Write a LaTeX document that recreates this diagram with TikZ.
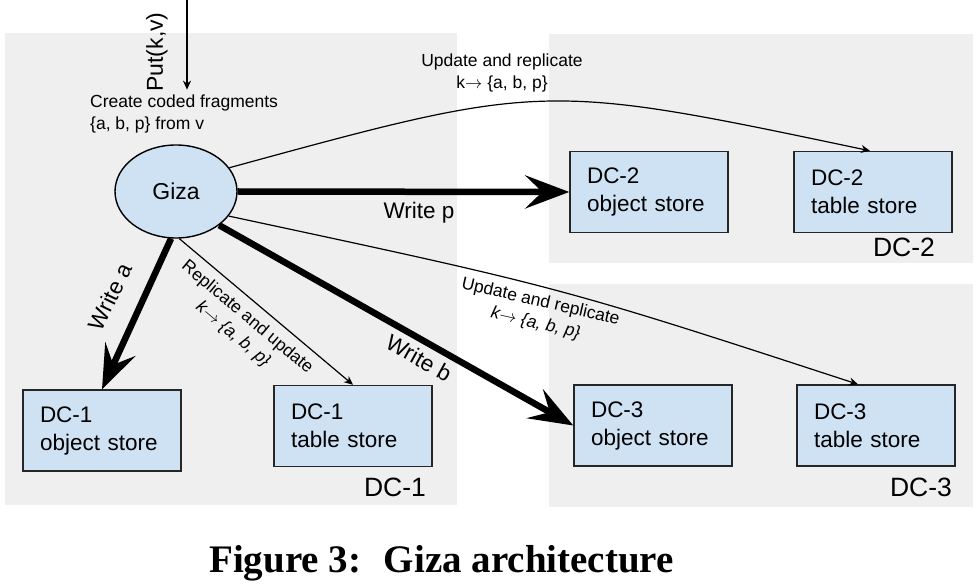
\documentclass[tikz,border=0pt]{standalone}
\usepackage{fontspec}
\setmainfont{Liberation Sans}
\newfontfamily\capfont{Liberation Serif}
\usetikzlibrary{shapes.geometric,arrows.meta,positioning,calc}
\definecolor{dcgray}{HTML}{EFEFEF}
\definecolor{storeblue}{HTML}{CFE2F3}
\newcommand{\sw}{158pt}
\newcommand{\sh}{81pt}
\newcommand{\kmap}{k$\rightarrow$ \{a, b, p\}}

\begin{document}
\begin{tikzpicture}[x=1pt,y=-1pt,
  store/.style={draw=black!85,line width=1.4pt,fill=storeblue,minimum width=\sw,
    minimum height=\sh,text width=\sw-34pt,inner xsep=17pt,align=left,
    font=\fontsize{22.5}{28}\selectfont},
  dclabel/.style={font=\fontsize{26.5}{30}\selectfont,inner sep=0pt},
  wr/.style={line width=6.5pt,-{Stealth[length=44pt,width=33pt,inset=17pt]}},
  rep/.style={line width=1.2pt,-{Stealth[length=9pt,width=8pt]}},
  lbl/.style={font=\fontsize{17.5}{22}\selectfont,align=center,inner sep=0pt},
  wl/.style={font=\fontsize{22.5}{26}\selectfont,inner sep=0pt}]
  \useasboundingbox (0,0) rectangle (980,585);

  % data centres
  \fill[dcgray] (5,33) rectangle (457,505);
  \fill[dcgray] (549,34) rectangle (973,263);
  \fill[dcgray] (549,284) rectangle (973,507);
  \node[dclabel] (dc1) at (395,487) {DC-1};
  \node[dclabel] (dc2) at (904,247) {DC-2};
  \node[dclabel] (dc3) at (921,487) {DC-3};

  \node[ellipse,draw=black,line width=1.4pt,fill=storeblue,minimum width=122pt,
    minimum height=93pt,inner sep=0pt,font=\fontsize{23}{26}\selectfont] (giza) at (176,191.5) {Giza};

  \node[store] (o1) at (102,430.5) {DC-1\\object store};
  \node[store] (t1) at (353,426) {DC-1\\table store};
  \node[store] (o2) at (649,192) {DC-2\\object store};
  \node[store] (t2) at (873,192) {DC-2\\table store};
  \node[store] (o3) at (653,425.5) {DC-3\\object store};
  \node[store] (t3) at (876,425.5) {DC-3\\table store};

  % client request
  \node[lbl,align=left,anchor=west] (frag) at (90,114) {Create coded fragments\\\{a, b, p\} from v};
  \node[font=\fontsize{23}{26}\selectfont,rotate=90,inner sep=0pt] (put) at (157,52) {Put(k,v)};
  \coordinate (putin) at (187,0);
  \draw[rep] (putin) -- (putin |- frag.north) [shorten >=5pt];

  % writes
  \draw[wr] (giza.east) -- (o2.west);
  \draw[wr] (giza.-38) -- (o3.west);
  \draw[wr] (giza.-96) -- (o1.north);
  \node[wl] (wp) at (419,213) {Write p};
  \node[wl,rotate=-29] (wb) at (419,358) {Write b};
  \node[wl,rotate=64] (wa) at (110,297) {Write a};

  % replication
  \draw[rep] (giza.24) .. controls (543,82) .. ([xshift=-3pt]t2.north);
  \draw[rep] (giza.-25) .. controls (560,287) .. ([xshift=-18pt]t3.north);
  \draw[rep] (giza.-86) -- (t1.north);
  \node[lbl] (u2) at (502,73) {Update and replicate\\\kmap};
  \node[lbl,rotate=-13] (u3) at (538,313) {Update and replicate\\\itshape\kmap};
  \node[lbl,rotate=-40] (u1) at (240,326) {Replicate and update\\\itshape\kmap};

  \node[anchor=base,inner sep=0pt] (cap) at (441.5,572)
    {\capfont\bfseries\fontsize{39}{44}\selectfont Figure 3:~ Giza architecture};
\end{tikzpicture}
\end{document}
